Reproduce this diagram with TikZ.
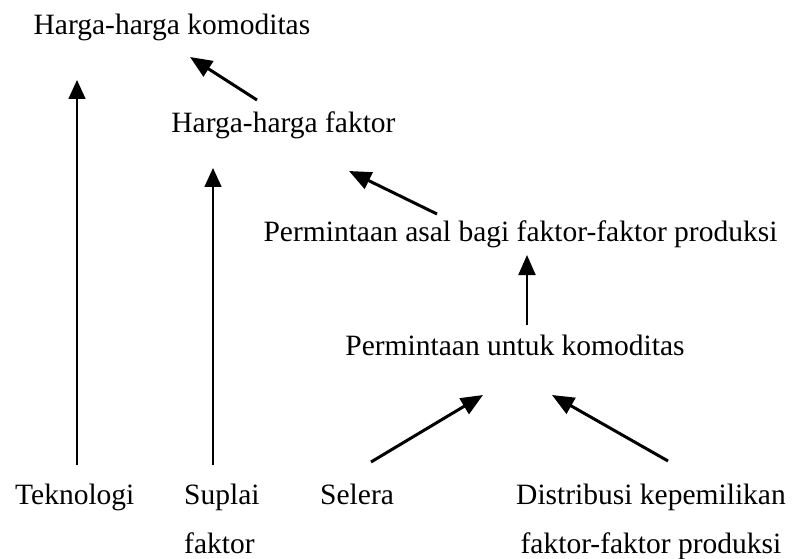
\documentclass[tikz,border=0pt]{standalone}
\usepackage{fontspec}
\setmainfont{Liberation Serif}
\usetikzlibrary{arrows.meta}

\begin{document}
\begin{tikzpicture}[x=1pt,y=-1pt,
    lbl/.style={inner sep=0pt,anchor=base,font=\fontsize{29.5}{49}\selectfont},
    thin tip/.style={-{Triangle[length=19pt,width=17pt]},line width=1.6pt},
    mid tip/.style={-{Triangle[length=20pt,width=17pt]},line width=2pt},
    fat tip/.style={-{Triangle[length=22pt,width=18pt]},line width=3pt}]
    \useasboundingbox (0,0) rectangle (796,559);
                \node[lbl](hk) at (172,35){Harga-harga komoditas};
                \node[lbl](hf) at (283.5,133){Harga-harga faktor};
                \node[lbl](pa) at (520.5,242){Permintaan asal bagi faktor-faktor produksi};
                \node[lbl](pk) at (515,355){Permintaan untuk komoditas};
    \node[lbl,anchor=base west](tek) at (15,504){Teknologi};
    % two-line labels sit on the baseline of their last line
    \node[lbl,anchor=base west,align=left](sup) at (184,553){Suplai\\faktor};
    \node[lbl,anchor=base west](sel) at (320,504){Selera};
    \node[lbl,anchor=base,align=center](dis) at (651,553){Distribusi kepemilikan\\faktor-faktor produksi};
    % ends of the arrows
    \coordinate (hk1) at (190,57);  \coordinate (hf1) at (257,100);
    \coordinate (hf2) at (349,171); \coordinate (pa1) at (437,214);
    \coordinate (pa2) at (527,255); \coordinate (pk1) at (527,325);
    \coordinate (pk2) at (483,395); \coordinate (sel1) at (371,462);
    \coordinate (pk3) at (552,395); \coordinate (dis1) at (668,461);
    \coordinate (hk2) at (77,80);   \coordinate (tek1) at (77,465);
    \coordinate (hf3) at (213,168); \coordinate (sup1) at (213,465);
    \path[fat tip](hf1) edge node{}(hk1)
                (pa1) edge node{}(hf2)
                (sel1) edge node{}(pk2)
                (dis1) edge node{}(pk3);
    \path[mid tip](pk1) edge node{}(pa2);
    \path[thin tip](tek1) edge node{}(hk2)
                (sup1) edge node{}(hf3);
            \end{tikzpicture}
\end{document}
